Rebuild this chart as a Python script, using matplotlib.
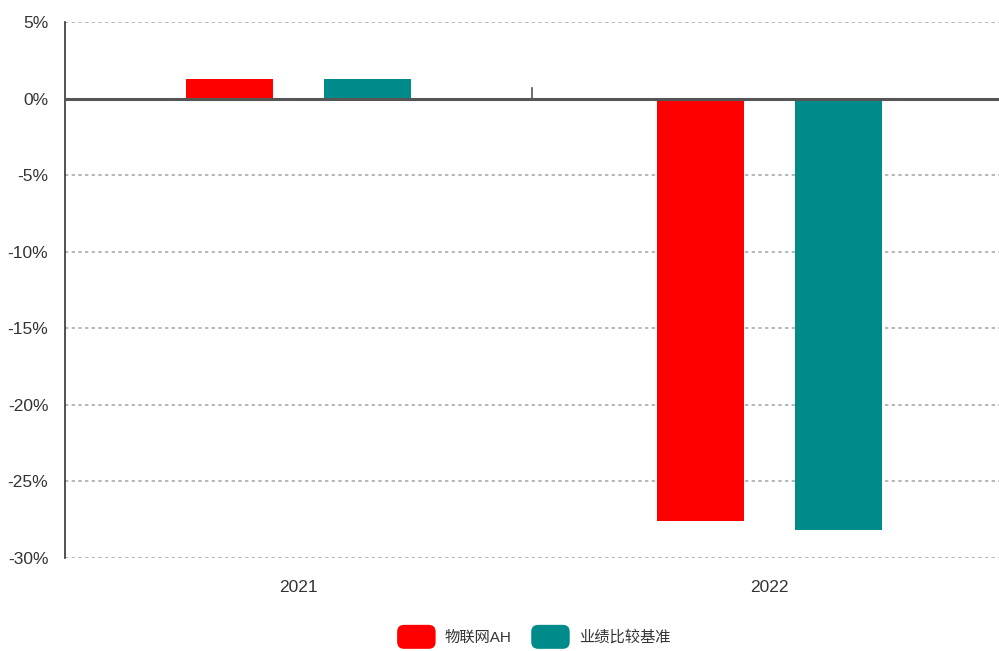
import numpy as np
import matplotlib
matplotlib.use("Agg")
from matplotlib import pyplot as plt
from matplotlib.patches import FancyBboxPatch
from matplotlib.legend_handler import HandlerPatch

plt.rcParams["font.family"] = ["Liberation Sans Narrow", "Liberation Sans", "Noto Sans CJK SC", "DejaVu Sans"]

years = ["2021", "2022"]
fund = [1.3, -27.6]
benchmark = [1.3, -28.2]
series_names = ["物联网AH", "业绩比较基准"]
colors = ["#ff0000", "#008b8b"]

fig = plt.figure(figsize=(9.99, 6.51), dpi=100)
ax = fig.add_axes([65 / 999, 93 / 651, 934 / 999, 536 / 651])

x = np.arange(len(years))
w = 0.185
off = 0.1465
b1 = ax.bar(x - off, fund, w, color=colors[0], label=series_names[0], zorder=3)
b2 = ax.bar(x + off, benchmark, w, color=colors[1], label=series_names[1], zorder=3)

ax.set_xlim(-0.496, 1.487)
ax.set_ylim(-30, 5)
yt = np.arange(-30, 6, 5)
ax.set_yticks(yt)
ax.set_yticklabels([f"{v}%" for v in yt], fontsize=12.5, color="#333333")
ax.set_xticks(x)
ax.set_xticklabels(years, fontsize=12.5, color="#333333")
ax.tick_params(axis="both", length=0, pad=12)
ax.tick_params(axis="x", pad=16)

for v in yt:
    if v != 0:
        ax.axhline(v, color="#aaaaaa", linestyle=(0, (2, 2)), linewidth=1.2, zorder=1)
ax.axhline(0, color="#555555", linewidth=2.2, zorder=4)
# category boundary tick above the zero line
ax.axvline(0.496, ymin=30 / 35, ymax=30.7 / 35, color="#555555", linewidth=1.2, zorder=4)

for s in ["top", "right", "bottom"]:
    ax.spines[s].set_visible(False)
ax.spines["left"].set_color("#333333")
ax.spines["left"].set_linewidth(1.2)


class RoundHandler(HandlerPatch):
    def create_artists(self, legend, orig_handle, xdescent, ydescent, width, height, fontsize, trans):
        p = FancyBboxPatch((-xdescent + 1, -ydescent - 3), width - 2, height + 6,
                           boxstyle="round,pad=0,rounding_size=5",
                           facecolor=orig_handle.get_facecolor(), edgecolor="none", transform=trans)
        return [p]


fig.legend([b1.patches[0], b2.patches[0]], series_names, loc="center",
           bbox_to_anchor=(533 / 999, 1 - 637 / 651), ncol=2, frameon=False,
           fontsize=11, handlelength=2.7, handleheight=1.2, columnspacing=1.2,
           handletextpad=0.5, labelcolor="#333333",
           handler_map={b1.patches[0]: RoundHandler(), b2.patches[0]: RoundHandler()})

plt.savefig("out.png", dpi=100)
